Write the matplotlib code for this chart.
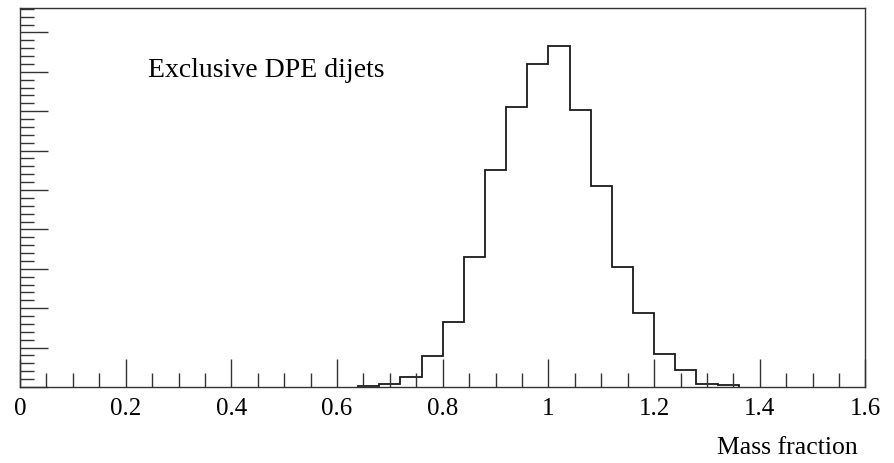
import numpy as np
import matplotlib
matplotlib.use("Agg")
import matplotlib.pyplot as plt
from matplotlib.ticker import MultipleLocator, NullFormatter

# Data
bin_start = 0.64
bin_width = 0.04
counts = [2.5, 8.7, 26.5, 79, 164, 329, 552, 711, 821, 866, 704, 510, 305, 187, 85, 42, 8.7, 4.3]
x_ticks = [0, 0.2, 0.4, 0.6, 0.8, 1.0, 1.2, 1.4, 1.6]
x_tick_labels = ["0", "0.2", "0.4", "0.6", "0.8", "1", "1.2", "1.4", "1.6"]
label_text = "Exclusive DPE dijets"
x_label = "Mass fraction"

edges = bin_start + bin_width * np.arange(len(counts) + 1)

plt.rcParams['font.family'] = ['Liberation Serif', 'DejaVu Serif']

fig = plt.figure(figsize=(8.95, 4.64), dpi=100)
ax = fig.add_axes([20/895, (464-388)/464, (865.5-20)/895, (388-9)/464])

ax.stairs(counts, edges, color='#1a1a1a', linewidth=1.3, baseline=0)

ax.set_xlim(0, 1.6)
ax.set_ylim(0, 962)

ax.set_xticks(x_ticks)
ax.set_xticklabels(x_tick_labels)
ax.xaxis.set_minor_locator(MultipleLocator(0.05))
ax.yaxis.set_major_locator(MultipleLocator(100))
ax.yaxis.set_minor_locator(MultipleLocator(20))
ax.yaxis.set_major_formatter(NullFormatter())

ax.tick_params(which='both', direction='in', top=False, right=False, colors='#333333')
ax.tick_params(axis='x', which='both', labelcolor='black', labelsize=18, pad=7)
ax.tick_params(which='major', length=20, width=1.0)
ax.tick_params(which='minor', length=10, width=1.0)

for sp in ax.spines.values():
    sp.set_color('#333333')
    sp.set_linewidth(1.0)

fig.text(148/895, 1 - 77/464, label_text, fontsize=20, ha='left', va='baseline')
fig.text(858/895, 1 - 448/464, x_label, fontsize=18.5, ha='right', va='center')

fig.savefig("out.png", dpi=100)
